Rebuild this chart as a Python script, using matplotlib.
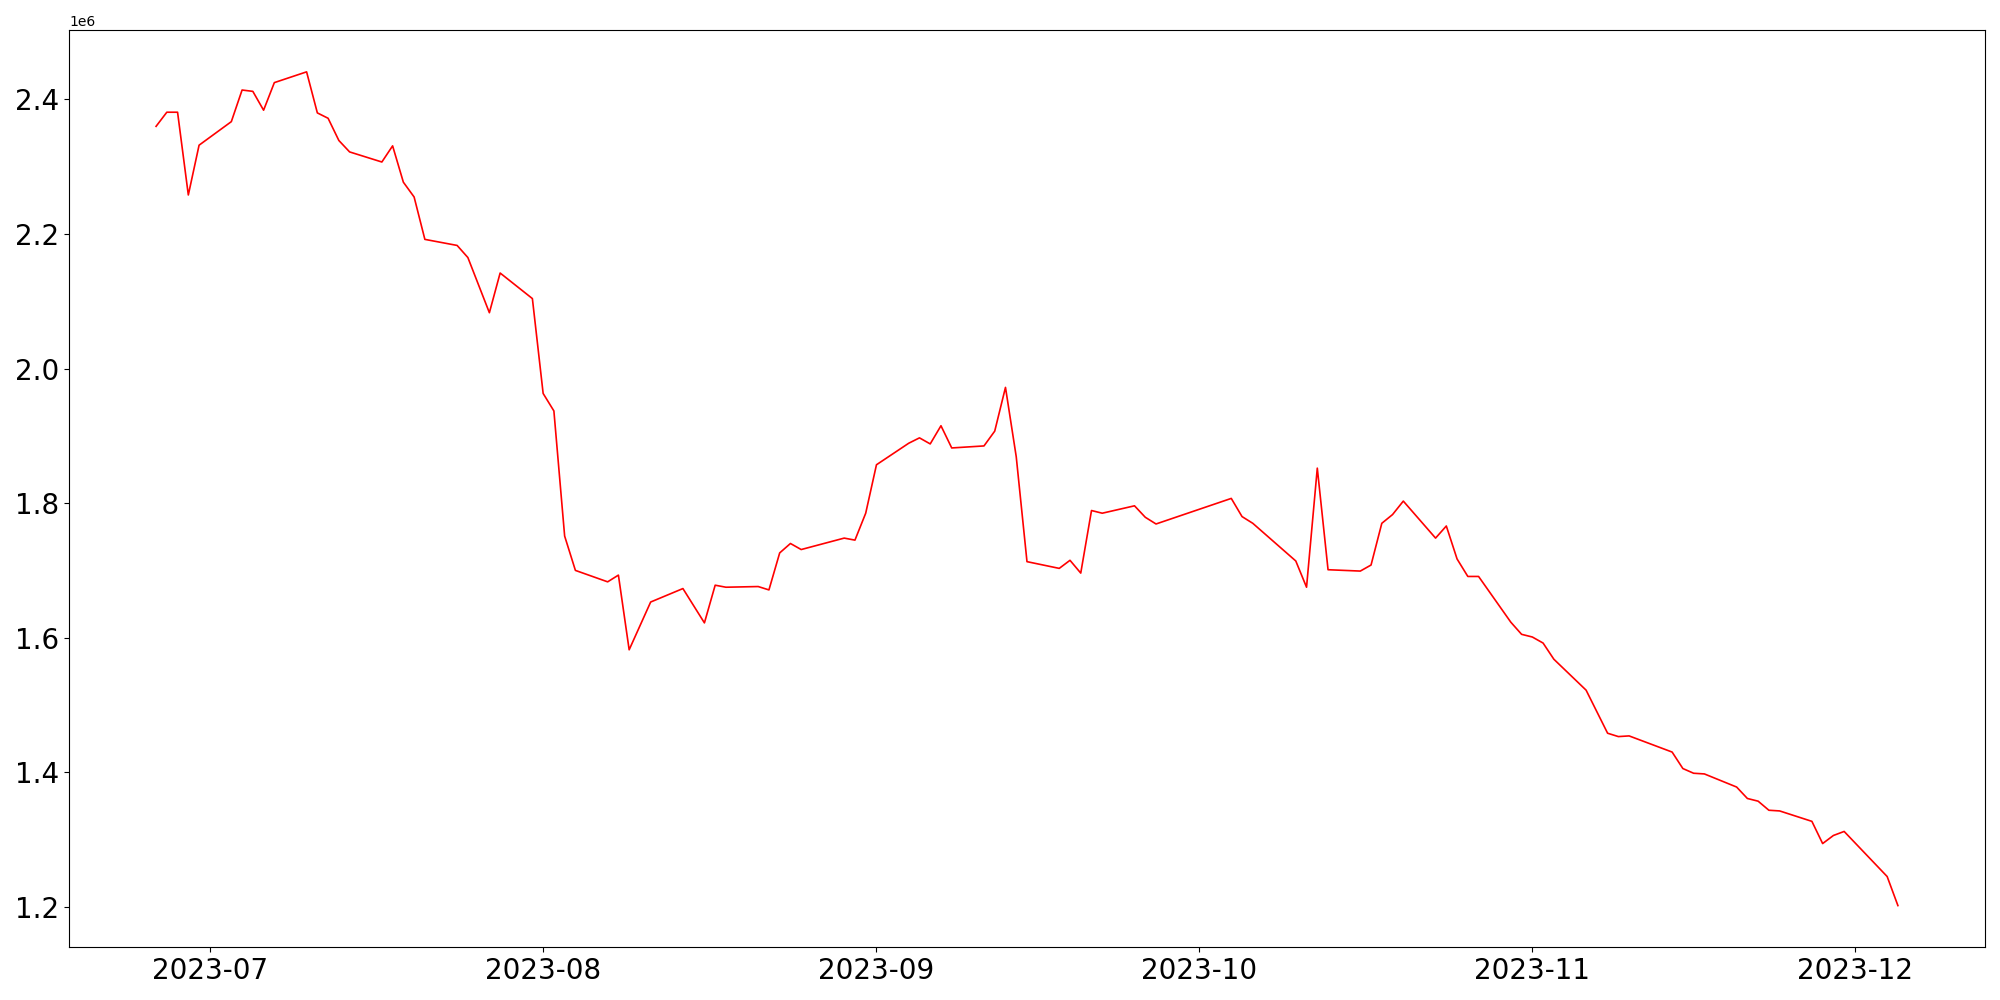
import matplotlib
matplotlib.use("Agg")
import matplotlib.pyplot as plt
import pandas as pd

dates = [
    "2023-06-26", "2023-06-27", "2023-06-28", "2023-06-29", "2023-06-30",
    "2023-07-03", "2023-07-04", "2023-07-05", "2023-07-06", "2023-07-07",
    "2023-07-10", "2023-07-11", "2023-07-12", "2023-07-13", "2023-07-14",
    "2023-07-17", "2023-07-18", "2023-07-19", "2023-07-20", "2023-07-21",
    "2023-07-24", "2023-07-25", "2023-07-27", "2023-07-28",
    "2023-07-31", "2023-08-01", "2023-08-02", "2023-08-03", "2023-08-04",
    "2023-08-07", "2023-08-08", "2023-08-09", "2023-08-11",
    "2023-08-14", "2023-08-16", "2023-08-17", "2023-08-18",
    "2023-08-21", "2023-08-22", "2023-08-23", "2023-08-24", "2023-08-25",
    "2023-08-29", "2023-08-30", "2023-08-31", "2023-09-01",
    "2023-09-04", "2023-09-05", "2023-09-06", "2023-09-07", "2023-09-08",
    "2023-09-11", "2023-09-12", "2023-09-13", "2023-09-14", "2023-09-15",
    "2023-09-18", "2023-09-19", "2023-09-20", "2023-09-21", "2023-09-22",
    "2023-09-25", "2023-09-26", "2023-09-27",
    "2023-10-04", "2023-10-05", "2023-10-06",
    "2023-10-10", "2023-10-11", "2023-10-12", "2023-10-13",
    "2023-10-16", "2023-10-17", "2023-10-18", "2023-10-19", "2023-10-20",
    "2023-10-23", "2023-10-24", "2023-10-25", "2023-10-26", "2023-10-27",
    "2023-10-30", "2023-10-31", "2023-11-01", "2023-11-02", "2023-11-03",
    "2023-11-06", "2023-11-08", "2023-11-09", "2023-11-10",
    "2023-11-14", "2023-11-15", "2023-11-16", "2023-11-17",
    "2023-11-20", "2023-11-21", "2023-11-22", "2023-11-23", "2023-11-24",
    "2023-11-27", "2023-11-28", "2023-11-29", "2023-11-30",
    "2023-12-04", "2023-12-05",
]

values = [
    2.360, 2.381, 2.381, 2.258, 2.332,
    2.367, 2.414, 2.412, 2.384, 2.425,
    2.441, 2.380, 2.372, 2.339, 2.322,
    2.307, 2.331, 2.277, 2.255, 2.192,
    2.183, 2.165, 2.083, 2.142,
    2.104, 1.963, 1.937, 1.751, 1.700,
    1.683, 1.693, 1.582, 1.653,
    1.673, 1.622, 1.678, 1.675,
    1.676, 1.671, 1.726, 1.740, 1.731,
    1.748, 1.745, 1.785, 1.857,
    1.889, 1.897, 1.888, 1.915, 1.882,
    1.885, 1.907, 1.972, 1.869, 1.713,
    1.703, 1.715, 1.696, 1.789, 1.785,
    1.796, 1.779, 1.769,
    1.807, 1.780, 1.770,
    1.714, 1.675, 1.852, 1.701,
    1.699, 1.708, 1.770, 1.783, 1.803,
    1.748, 1.766, 1.717, 1.691, 1.691,
    1.623, 1.605, 1.601, 1.592, 1.568,
    1.522, 1.458, 1.453, 1.454,
    1.430, 1.4055, 1.3985, 1.3975,
    1.378, 1.361, 1.357, 1.3435, 1.3425,
    1.327, 1.294, 1.306, 1.312,
    1.245, 1.2018,
]

x = pd.to_datetime(dates)
y = [v * 1e6 for v in values]

fig, ax = plt.subplots(figsize=(20, 10), dpi=100)
ax.plot(x, y, color="red", linewidth=1.2)
ax.tick_params(axis="both", labelsize=20)
fig.tight_layout()
fig.savefig("out.png", dpi=100)
